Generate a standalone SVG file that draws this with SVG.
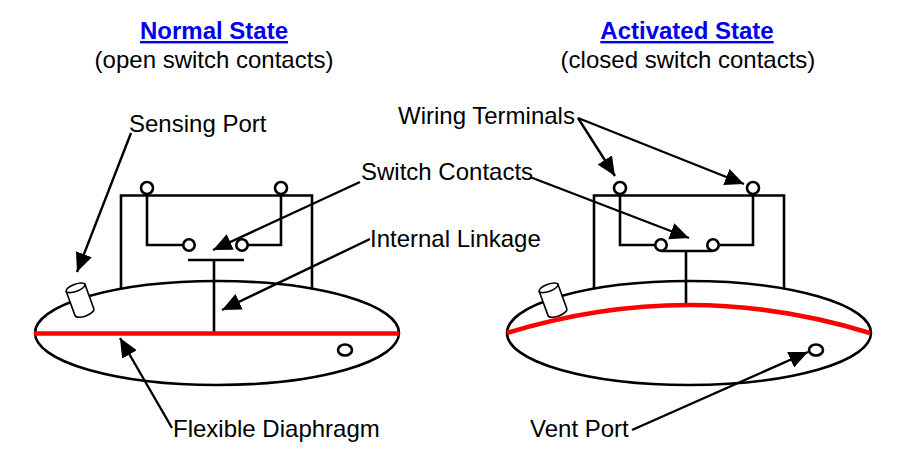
<svg xmlns="http://www.w3.org/2000/svg" width="907" height="463" viewBox="0 0 907 463">
<style>
text{font-family:"Liberation Sans",Arial,sans-serif;font-size:24px;fill:#000}
.t{font-weight:bold;fill:#0000ee;text-decoration:underline;text-anchor:middle}
.c{text-anchor:middle}
.l{fill:none;stroke:#000;stroke-width:2.6}
.o{fill:#fff;stroke:#000;stroke-width:2.6}
.r{fill:none;stroke:#f00;stroke-width:4.6}
.a{fill:none;stroke:#000;stroke-width:2.4;marker-end:url(#ah)}
</style>
<defs>
<marker id="ah" markerUnits="userSpaceOnUse" markerWidth="22" markerHeight="18" refX="19" refY="8.500" orient="auto"><path d="M0 0L19 8.500L0 17Z" fill="#000"/></marker>
<g id="cyl">
<path d="M-10 -13V13A10 4 0 0 0 10 13V-13Z" fill="#fff" stroke="#000" stroke-width="1.600"/>
<ellipse cx="0" cy="-13" rx="10" ry="3.600" fill="#fff" stroke="#000" stroke-width="1.600"/>
</g>
</defs>
<rect width="907" height="463" fill="#fff"/>
<g id="title-normal"><text class="t" x="214" y="39">Normal State</text><text class="c" x="214" y="68">(open switch contacts)</text></g>
<g id="title-activated"><text class="t" x="687" y="39">Activated State</text><text class="c" x="688" y="68">(closed switch contacts)</text></g>
<g id="normal-body"><ellipse class="o" cx="217" cy="333" rx="182" ry="52"/><path class="l" d="M121 289V195.500H312V289"/><ellipse class="o" cx="345" cy="350" rx="7" ry="5.500"/><use href="#cyl" transform="translate(80 300) rotate(-20)"/></g>
<g id="normal-switch"><path class="l" d="M147 194V245H183M281 194V245H247M188 260H244M214 260V332"/><circle class="o" cx="147" cy="188" r="6"/><circle class="o" cx="281" cy="188" r="6"/><circle class="o" cx="189" cy="245" r="5.700"/><circle class="o" cx="242" cy="245" r="5.700"/></g>
<path id="normal-diaphragm" class="r" d="M34 333.500H399"/>
<g id="activated-body"><ellipse class="o" cx="689" cy="333" rx="182" ry="52"/><path class="l" d="M594 289V195.500H784V288"/><ellipse class="o" cx="816" cy="350" rx="7" ry="5.500"/><use href="#cyl" transform="translate(553 300) rotate(-20)"/></g>
<g id="activated-switch"><path class="l" d="M620 194V245H655M753 194V245H719M661 251H713M686 251V305"/><circle class="o" cx="620" cy="188" r="6"/><circle class="o" cx="753" cy="188" r="6"/><circle class="o" cx="661" cy="245" r="5.700"/><circle class="o" cx="713" cy="245" r="5.700"/></g>
<path id="activated-diaphragm" class="r" d="M507 333Q689 277 870 333"/>
<g id="connectors">
<path class="a" d="M131 133L77 272"/>
<path class="a" d="M360 182L213 250"/>
<path class="a" d="M370 239L222 310"/>
<path class="a" d="M172 428L120 338"/>
<path class="a" d="M530 177L689 238"/>
<path class="a" d="M578 118L615 176"/>
<path class="a" d="M578 118L744 184"/>
<path class="a" d="M632 430L808 352"/>
</g>
<g id="labels">
<text x="129" y="132">Sensing Port</text>
<text x="361" y="180">Switch Contacts</text>
<text x="370" y="247">Internal Linkage</text>
<text x="173" y="437">Flexible Diaphragm</text>
<text x="398" y="124">Wiring Terminals</text>
<text x="530" y="437">Vent Port</text>
</g>
</svg>
